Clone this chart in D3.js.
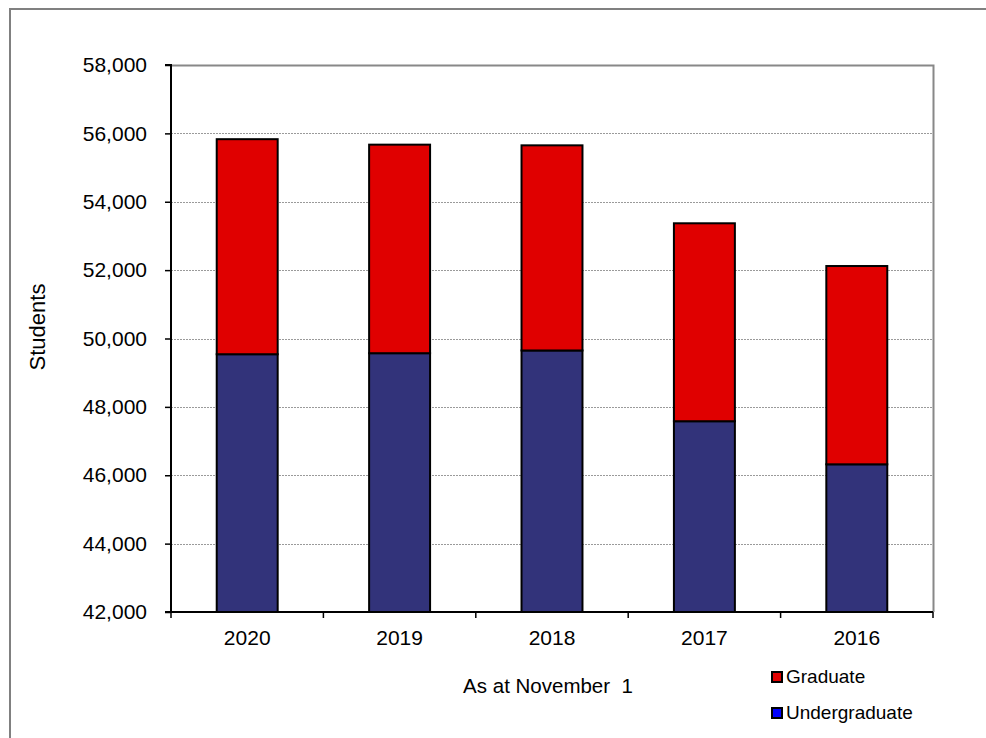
<!DOCTYPE html>
<html>
<head>
<meta charset="utf-8">
<script src="https://cdn.jsdelivr.net/npm/d3@7"></script>
<style>
  html, body { margin: 0; padding: 0; background: #fff; }
  svg { display: block; font-family: "Liberation Sans", Arial, sans-serif; }
</style>
</head>
<body>
<svg id="chart" width="986" height="738"></svg>
<script>
const years = ["2020", "2019", "2018", "2017", "2016"];
const undergraduate = [49540, 49570, 49650, 47580, 46320];
const graduate = [6290, 6100, 6000, 5790, 5800];
const yTicks = [42000, 44000, 46000, 48000, 50000, 52000, 54000, 56000, 58000];
const seriesNames = ["Graduate", "Undergraduate"];
const barColors = { Undergraduate: "#32337a", Graduate: "#e00000" };
const legendColors = { Graduate: "#e00000", Undergraduate: "#0000ff" };

const FONT = "Liberation Sans, Arial, sans-serif";
const svg = d3.select("#chart");
const margin = { left: 171, right: 933, top: 65, bottom: 612 };

// outer frame
svg.append("rect").attr("x", 10).attr("y", 9).attr("width", 1000).attr("height", 1000)
  .attr("fill", "none").attr("stroke", "#808080").attr("stroke-width", 2);

const x = d3.scaleBand().domain(years).range([margin.left, margin.right]).paddingInner(0.6).paddingOuter(0.3);
const xb = d3.scaleBand().domain(years).range([margin.left, margin.right]);
const y = d3.scaleLinear().domain([42000, 58000]).range([margin.bottom, margin.top]);

// gridlines
svg.append("g").selectAll("line").data(yTicks.filter(t => t > 42000 && t < 58000)).join("line")
  .attr("x1", margin.left).attr("x2", margin.right)
  .attr("y1", d => Math.round(y(d)) + 0.5).attr("y2", d => Math.round(y(d)) + 0.5)
  .attr("stroke", "#9a9a9a").attr("stroke-width", 1).attr("stroke-dasharray", "2,1");

// plot area top/right border
svg.append("path")
  .attr("d", `M${margin.left},${margin.top + 0.5}H${margin.right + 0.5}V${margin.bottom}`)
  .attr("fill", "none").attr("stroke", "#888").attr("stroke-width", 2);

// stacked bars
const data = years.map((yr, i) => ({ year: yr, Undergraduate: undergraduate[i], Graduate: graduate[i] }));
const stacked = d3.stack().keys(["Undergraduate", "Graduate"])(data);
stacked.forEach(s => {
  svg.append("g").selectAll("rect").data(s).join("rect")
    .attr("x", d => x(d.data.year))
    .attr("width", x.bandwidth())
    .attr("y", d => y(d[1]))
    .attr("height", d => y(Math.max(d[0], 42000)) - y(d[1]))
    .attr("fill", barColors[s.key])
    .attr("stroke", "#000").attr("stroke-width", 2);
});

// y axis
const yAxis = d3.axisLeft(y).tickValues(yTicks).tickSize(6).tickPadding(18)
  .tickFormat(d3.format(","));
const gy = svg.append("g").attr("transform", `translate(${margin.left},0)`).call(yAxis);
gy.attr("font-size", 21).attr("font-family", FONT);
gy.select(".domain").attr("stroke", "#000").attr("stroke-width", 2).attr("d", `M-6,${margin.top}H0V${margin.bottom}H-6`);
gy.selectAll(".tick line").attr("stroke", "#000").attr("stroke-width", 1.5);
gy.selectAll("text").attr("fill", "#000");

// x axis
const xAxis = d3.axisBottom(xb).tickSize(0).tickPadding(18);
const gx = svg.append("g").attr("transform", `translate(0,${margin.bottom})`).call(xAxis);
gx.attr("font-size", 21).attr("font-family", FONT);
gx.select(".domain").attr("stroke", "#000").attr("stroke-width", 2).attr("d", `M${margin.left},0H${margin.right}`);
gx.selectAll("text").attr("fill", "#000");
// category separator ticks
const bounds = years.map(yr => xb(yr)).concat([margin.right]);
gx.append("g").selectAll("line").data(bounds).join("line")
  .attr("x1", d => d).attr("x2", d => d).attr("y1", 0).attr("y2", 6)
  .attr("stroke", "#000").attr("stroke-width", 1.5);

// axis titles
svg.append("text").attr("transform", `translate(45,327) rotate(-90)`)
  .attr("text-anchor", "middle").attr("font-size", 22).attr("fill", "#000").text("Students");
svg.append("text").attr("x", 548).attr("y", 693).attr("text-anchor", "middle")
  .attr("font-size", 20.5).attr("fill", "#000").style("white-space", "pre").text("As at November  1");

// legend
const legend = svg.append("g");
seriesNames.forEach((name, i) => {
  const base = 683 + i * 36;
  legend.append("rect").attr("x", 772).attr("y", base - 11).attr("width", 10).attr("height", 10)
    .attr("fill", legendColors[name]).attr("stroke", "#000").attr("stroke-width", 2);
  legend.append("text").attr("x", 786).attr("y", base).attr("font-size", 19).attr("fill", "#000").text(name);
});
</script>
</body>
</html>
